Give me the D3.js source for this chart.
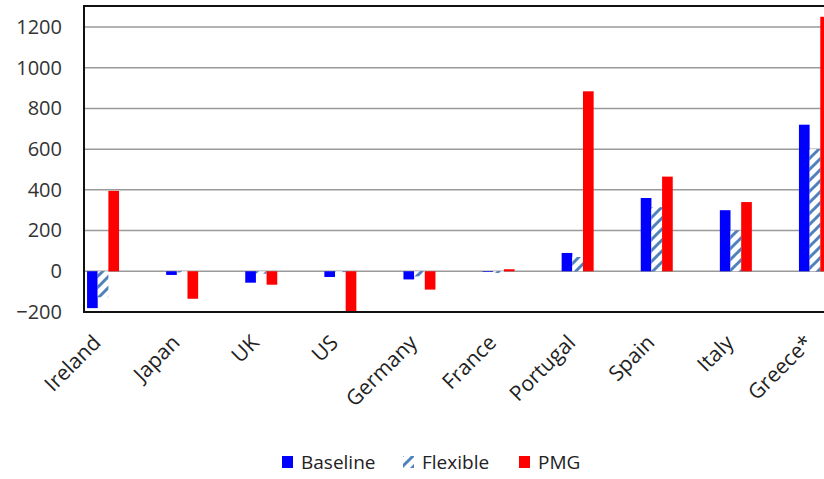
<!DOCTYPE html>
<html><head><meta charset="utf-8">
<script src="https://cdn.jsdelivr.net/npm/d3@7"></script>
<style>body{margin:0;background:#fff}svg{display:block}text{font-family:"Open Sans",sans-serif}</style>
</head><body><svg id="c" width="824" height="479"></svg>
<script>
const categories = ["Ireland","Japan","UK","US","Germany","France","Portugal","Spain","Italy","Greece*"];
const baseline = [-181,-18,-56,-28,-40,-3,90,360,300,720];
const flexible = [-128,-5,-12,-4,-25,-8,70,315,200,600];
const pmg = [395,-135,-66,-210,-90,10,884,465,340,1250];
const yTicks = [-200,0,200,400,600,800,1000,1200];
const seriesNames = ["Baseline","Flexible","PMG"];

const svg = d3.select("#c");
const plot = {left:84, top:6, right:826, bottom:312};
const y = d3.scaleLinear().domain([-200,1303]).range([plot.bottom, plot.top]);
const x0 = d3.scaleBand().domain(categories).range([63.5, 854.5]).paddingInner(0);
const groupW = 32;
const x1 = d3.scaleBand().domain(seriesNames).range([0, groupW]);

const defs = svg.append("defs");
const pat = defs.append("pattern").attr("id","hatch").attr("patternUnits","userSpaceOnUse")
  .attr("width",11).attr("height",11);
pat.append("rect").attr("width",11).attr("height",11).attr("fill","#fff");
pat.append("path").attr("d","M-2,13 L13,-2 M-2,2 L2,-2 M9,13 L13,9").attr("stroke","#4f81bd").attr("stroke-width",3);
defs.append("clipPath").attr("id","clip").append("rect")
  .attr("x",plot.left).attr("y",plot.top).attr("width",plot.right-plot.left).attr("height",plot.bottom-plot.top);

// gridlines
svg.append("g").selectAll("line").data(yTicks.filter(d=>d>-200)).join("line")
  .attr("x1",plot.left).attr("x2",824).attr("y1",d=>y(d)).attr("y2",d=>y(d))
  .attr("stroke","#9a9a9a").attr("stroke-width",1.5);

// y axis labels
const yAxis = d3.axisLeft(y).tickValues(yTicks).tickFormat(d3.format("d")).tickSize(0).tickPadding(22);
const ga = svg.append("g").attr("transform",`translate(${plot.left},0)`).call(yAxis);
ga.select(".domain").remove();
ga.selectAll("text").attr("font-size",20).attr("fill","#333").attr("font-family","Open Sans, sans-serif");

// bars
const data = categories.map((c,i)=>({c, vals:[baseline[i],flexible[i],pmg[i]]}));
const fills = ["#0000ff","url(#hatch)","#ff0000"];
const bars = svg.append("g").attr("clip-path","url(#clip)");
data.forEach(d=>{
  const gx = x0(d.c) + (x0.bandwidth()-groupW)/2;
  bars.selectAll(null).data(d.vals.map((v,k)=>({v,k}))).join("rect")
    .attr("x",e=>gx + x1(seriesNames[e.k]))
    .attr("width",x1.bandwidth())
    .attr("y",e=>Math.min(y(e.v),y(0)))
    .attr("height",e=>Math.abs(y(e.v)-y(0)))
    .attr("fill",e=>fills[e.k]);
});

// frame
svg.append("rect").attr("x",plot.left).attr("y",plot.top).attr("width",plot.right-plot.left).attr("height",plot.bottom-plot.top)
  .attr("fill","none").attr("stroke","#111").attr("stroke-width",2);

// category labels
svg.append("g").selectAll("text").data(categories).join("text")
  .attr("transform",c=>`translate(${x0(c)+x0.bandwidth()/2-1},${plot.bottom+32}) rotate(-45)`)
  .attr("text-anchor","end").attr("font-size",21).attr("fill","#222").text(c=>c);

// legend
const leg = [{n:"Baseline",f:"#0000ff",x:282},{n:"Flexible",f:"url(#hatch)",x:403},{n:"PMG",f:"#ff0000",x:519}];
const lg = svg.append("g");
leg.forEach(l=>{
  lg.append("rect").attr("x",l.x).attr("y",456).attr("width",11).attr("height",12).attr("fill",l.f);
  lg.append("text").attr("x",l.x+19).attr("y",469).attr("font-size",19).attr("fill","#222").text(l.n);
});
</script></body></html>
